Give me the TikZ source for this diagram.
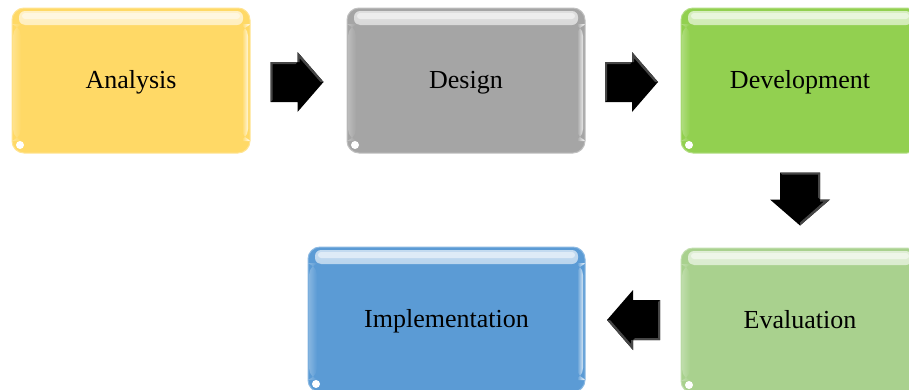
\documentclass[tikz,border=0pt]{standalone}
\usepackage{fontspec}
\setmainfont{Liberation Serif}
\usetikzlibrary{calc}

\definecolor{cYellow}{RGB}{255,217,102}
\definecolor{cGray}{RGB}{165,165,165}
\definecolor{cGreen}{RGB}{146,208,80}
\definecolor{cLightGreen}{RGB}{169,209,142}
\definecolor{cBlue}{RGB}{91,155,213}
\definecolor{bevel}{RGB}{70,70,70}

\tikzset{
  glossbox/.style={
    rounded corners=12pt, inner sep=0pt,
    minimum width=238pt, minimum height=145pt,
    text height=23pt, text depth=7pt,
    font=\fontsize{26}{30}\selectfont, text=black,
    fill=#1, draw=#1!70!white, line width=1pt,
    path picture={
      % glossy band along the top edge
      \shade[top color=#1!35!white, bottom color=#1, rounded corners=6pt]
        ([xshift=7pt,yshift=-3pt]path picture bounding box.north west)
        rectangle ([xshift=-7pt,yshift=-17pt]path picture bounding box.north east);
      \fill[#1!20!white, rounded corners=3pt]
        ([xshift=10pt,yshift=-5pt]path picture bounding box.north west)
        rectangle ([xshift=-10pt,yshift=-11pt]path picture bounding box.north east);
      % light strip along the right edge
      \shade[left color=#1, right color=#1!25!white]
        ([xshift=-8pt,yshift=-16pt]path picture bounding box.north east)
        rectangle ([xshift=-2pt,yshift=12pt]path picture bounding box.south east);
      % faint light strip along the left edge
      \shade[left color=#1!75!white, right color=#1]
        ([xshift=1pt,yshift=-16pt]path picture bounding box.north west)
        rectangle ([xshift=9pt,yshift=12pt]path picture bounding box.south west);
      % small light spot in the bottom left corner
      \fill[white] ([xshift=8pt,yshift=8pt]path picture bounding box.south west) circle (4pt);
    }
  },
  blockarrow/.pic={
    \fill[black] (-26,20) -- (1,20) -- (1,30) -- (27,0) -- (1,-30)
      -- (1,-20) -- (-26,-20) -- cycle;
    % narrow bevel along the upper edges
    \fill[bevel] (-26,20) -- (1,20) -- (-1,18) -- (-24,18) -- (-24,-18)
      -- (-26,-20) -- cycle;
    \fill[bevel] (1,30) -- (27,0) -- (24,0) -- (3,24) -- (3,20) -- (1,20) -- cycle;
  }
}

\begin{document}
\begin{tikzpicture}[x=1pt,y=1pt]
  \useasboundingbox (0,0) rectangle (909,-389);
  \clip (0,0) rectangle (909,-389);

  \node[glossbox=cYellow] (ana) at (131,-80.5) {Analysis};
  \node[glossbox=cGray] (des) at (466,-80.5) {Design};
  \node[glossbox=cGreen] (dev) at (800,-80.5) {Development};
  \node[glossbox=cLightGreen] (eva) at (800,-320.5) {Evaluation};
  \node[glossbox=cBlue, minimum width=277pt] (imp) at (446.5,-319.5) {Implementation};

  % block arrows between the stages
  \coordinate (m1) at ($(ana.east)!0.5!(des.west)+(-2,-1.5)$);
  \coordinate (m2) at ($(des.east)!0.5!(dev.west)+(-2,-1.5)$);
  \coordinate (m3) at ($(dev.south)!0.5!(eva.north)+(0,2)$);
  \coordinate (m4) at ($(eva.west)!0.5!(imp.east)+(1,0)$);

  \pic at (m1) {blockarrow};
  \pic at (m2) {blockarrow};
  \pic[rotate=-90] at (m3) {blockarrow};
  \pic[rotate=180] at (m4) {blockarrow};
\end{tikzpicture}
\end{document}
